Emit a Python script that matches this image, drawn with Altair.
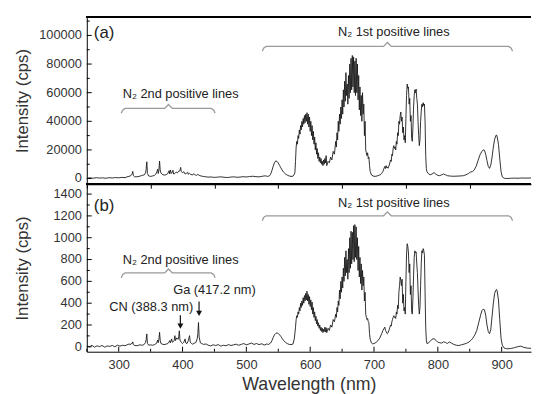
import altair as alt
import pandas as pd

FONT = "Liberation Sans"
W = 451
H = 170
X_DOMAIN = [250, 946]
X_MAJOR = [300, 400, 500, 600, 700, 800, 900]
X_MINOR = [250, 350, 450, 550, 650, 750, 850]

# ---------------- panel (a) spectrum: (wavelength nm, intensity cps) ----------------
A_BASE_UV = [(250, 300), (255, 500), (260, 200), (265, 600), (270, 300), (275, 500), (280, 200),
             (285, 600), (290, 400), (295, 700), (300, 500), (305, 800), (310, 600)]
A_N2_2ND = [(313, 1200), (316, 1500), (319, 2000), (320, 2600), (321, 3200), (322, 5000), (323, 2000),
            (325, 1200), (330, 1300), (334, 1800), (337, 2200), (340, 2600), (342, 4000), (343, 6500),
            (344, 11700), (345, 3500), (347, 1800), (350, 1500), (353, 1800), (356, 2200), (358, 3000),
            (360, 5000), (361, 6500), (362, 3500), (363, 6000), (364, 12200), (365, 6000), (366, 4000),
            (368, 3000), (371, 2400), (374, 2600), (377, 3500), (379, 5500), (380, 3200), (381, 6000),
            (382, 4000), (383, 3600), (385, 5800), (386, 3200), (388, 3500), (390, 4500), (392, 4000),
            (394, 5200), (396, 5500), (397, 7800), (398, 5000), (400, 4000), (402, 4800), (404, 3200),
            (406, 3600), (408, 4400), (409, 3000), (411, 3600), (413, 2800), (416, 2600), (418, 3400),
            (420, 2400), (422, 2200), (424, 3000), (426, 2200), (429, 1800), (433, 1400), (437, 1200)]
A_VIS = [(440, 1000), (445, 1100), (450, 800), (455, 1000), (460, 1200), (465, 900), (470, 700),
         (475, 1000), (480, 1200), (485, 900), (490, 1000), (495, 1300), (500, 1100), (505, 1400),
         (510, 1600), (515, 1300), (520, 1200), (525, 1600), (530, 1900), (533, 1500), (536, 1800),
         (538, 3000), (540, 5500), (542, 8500), (544, 11000), (546, 12300), (548, 12000), (550, 10800),
         (552, 9200), (554, 7500), (556, 6000), (558, 4600), (561, 3300), (564, 2400), (567, 1800),
         (570, 1500), (573, 1600), (575, 3000)]
A_BAND1 = [(576, 4000), (577, 12000), (578, 22000), (579, 26000), (580, 24000), (581, 30000),
           (582, 28000), (583, 34000), (584, 31000), (585, 37000), (586, 34000), (587, 40000),
           (588, 36000), (589, 42000), (590, 38000), (591, 44000), (592, 39000), (593, 45000),
           (594, 40000), (595, 46000), (596, 38000), (597, 45000), (598, 36000), (599, 43000),
           (600, 33000), (601, 40000), (602, 30000), (603, 37000), (604, 27000), (605, 33000),
           (606, 24000), (607, 29000), (608, 20000), (609, 25000), (610, 17000), (611, 21000),
           (612, 14000), (613, 18000), (614, 12000), (615, 15000), (616, 11000), (617, 14000),
           (618, 10000), (619, 12000), (620, 9000), (621, 13000), (622, 10000), (623, 14000),
           (624, 11000), (625, 16000)]
A_BAND2 = [(626, 9000), (628, 12000), (630, 11000), (632, 15000), (634, 13000), (636, 19000),
           (638, 17000), (640, 26000), (641, 22000), (642, 32000), (643, 27000), (644, 40000),
           (645, 33000), (646, 45000), (647, 38000), (648, 50000), (649, 42000), (650, 55000),
           (651, 45000), (652, 62000), (653, 50000), (654, 68000), (655, 54000), (656, 74000),
           (657, 58000), (658, 66000), (659, 52000), (660, 72000), (661, 56000), (662, 80000),
           (663, 60000), (664, 84000), (665, 62000), (666, 86000), (667, 64000), (668, 85000),
           (669, 60000), (670, 82000), (671, 58000), (672, 84000), (673, 60000), (674, 80000),
           (675, 55000), (676, 72000), (677, 48000), (678, 64000), (679, 44000), (680, 58000),
           (681, 40000), (682, 60000), (683, 45000), (684, 52000), (685, 30000), (686, 40000),
           (687, 20000), (688, 18000), (689, 16000), (690, 18000), (691, 14000), (692, 15000),
           (693, 9000), (694, 5000), (696, 2500)]
A_BAND3 = [(700, 1500), (703, 1600), (706, 2000), (709, 2500), (712, 3500), (714, 5000), (716, 7500),
           (717, 8500), (718, 7000), (719, 9000), (720, 7500), (721, 8000), (722, 7200), (724, 9500),
           (726, 13000), (727, 12000), (728, 17000), (729, 16000), (730, 21000), (731, 23000),
           (732, 21000), (733, 22000), (734, 20000), (735, 26000), (736, 24000), (737, 32000),
           (738, 30000), (739, 40000), (740, 38000), (741, 44000), (742, 46500), (743, 40000),
           (744, 43000), (745, 32000), (746, 36000), (747, 27000), (748, 30000), (749, 25000),
           (750, 42000), (751, 58000), (752, 66000), (753, 63000), (754, 64000), (755, 52000),
           (756, 56000), (757, 40000), (758, 44000), (759, 28000), (760, 26000), (761, 36000),
           (762, 50000), (763, 58000), (764, 62000), (765, 60000), (766, 62500), (767, 56000),
           (768, 52000), (769, 40000), (770, 30000), (771, 23000), (772, 27000), (773, 40000),
           (774, 47000), (775, 52000), (776, 50000), (777, 53000), (778, 51000), (779, 52000),
           (780, 40000), (781, 16000), (782, 7000), (783, 4800), (785, 3500)]
A_IR = [(788, 2600), (791, 3200), (794, 4200), (797, 3000), (800, 2200), (803, 2000), (806, 2600),
        (809, 3200), (812, 2600), (815, 2000), (820, 1700), (825, 1600), (830, 1700), (835, 1800),
        (840, 2000), (844, 2600), (848, 3500), (851, 4500), (854, 4800), (857, 6000), (860, 8500),
        (863, 12500), (866, 16500), (869, 19000), (871, 20000), (873, 19800), (875, 17000),
        (877, 12500), (879, 8500), (881, 7100), (883, 9500), (885, 15000), (887, 22000), (889, 27500),
        (891, 30000), (892, 30500), (893, 29000), (895, 24000), (897, 14000), (899, 5000), (901, 1200),
        (904, 200), (908, 0), (914, 200), (920, 300), (926, 200), (932, 400), (938, 300), (946, 400)]

# ---------------- panel (b) spectrum ----------------
B_BASE_UV = [(250, 10), (254, 0), (258, 14), (262, -4), (266, 9), (270, 2), (274, 12), (278, -3),
             (282, 8), (286, 4), (290, 12), (294, 0), (298, 15), (302, 6), (306, 14), (310, 10)]
B_N2_2ND = [(313, 18), (316, 25), (319, 22), (320, 32), (321, 30), (322, 45), (323, 20), (325, 12),
            (329, 10), (333, 18), (337, 14), (340, 22), (342, 40), (343, 65), (344, 118), (345, 32),
            (347, 15), (350, 18), (353, 14), (356, 20), (359, 30), (360, 45), (361, 62), (362, 38),
            (363, 70), (364, 133), (365, 60), (366, 32), (368, 25), (371, 20), (374, 24), (377, 30),
            (379, 45), (380, 58), (381, 36), (383, 72), (384, 42), (386, 50), (387, 60), (388, 102),
            (389, 58), (391, 82), (393, 68), (394, 90), (395, 147), (396, 62), (398, 40), (400, 30),
            (402, 42), (404, 72), (405, 36), (407, 30), (409, 55), (411, 102), (412, 44), (414, 30),
            (416, 24), (418, 32), (421, 40), (423, 75), (424, 120), (425, 223), (426, 90), (428, 36),
            (430, 30), (433, 22), (437, 26)]
B_VIS = [(440, 15), (444, 8), (448, 18), (452, 12), (456, 20), (460, 6), (464, 14), (468, 10),
         (472, 20), (476, 12), (480, 18), (484, 24), (488, 14), (492, 22), (496, 30), (500, 18),
         (504, 26), (508, 34), (512, 22), (516, 30), (520, 20), (524, 28), (528, 16), (532, 26),
         (535, 22), (538, 35), (540, 55), (542, 85), (544, 110), (546, 122), (548, 128), (550, 122),
         (552, 110), (554, 95), (556, 78), (558, 60), (561, 42), (564, 30), (567, 22), (570, 20),
         (573, 25), (575, 70), (576, 120)]
B_BAND1 = [(577, 180), (578, 250), (579, 285), (580, 270), (581, 320), (582, 300), (583, 360),
           (584, 330), (585, 400), (586, 360), (587, 420), (588, 380), (589, 450), (590, 400),
           (591, 470), (592, 420), (593, 490), (594, 430), (595, 510), (596, 420), (597, 480),
           (598, 390), (599, 460), (600, 370), (601, 430), (602, 340), (603, 410), (604, 300),
           (605, 360), (606, 270), (607, 320), (608, 240), (609, 280), (610, 210), (611, 250),
           (612, 190), (613, 220), (614, 170), (615, 200), (616, 150), (617, 180), (618, 140),
           (619, 170), (620, 130), (621, 160), (622, 140), (623, 180), (624, 135), (625, 175)]
B_BAND2 = [(626, 130), (628, 170), (630, 150), (632, 200), (634, 180), (636, 250), (638, 230),
           (640, 300), (641, 270), (642, 360), (643, 320), (644, 420), (645, 380), (646, 520),
           (647, 440), (648, 600), (649, 500), (650, 640), (651, 540), (652, 720), (653, 600),
           (654, 820), (655, 650), (656, 880), (657, 680), (658, 800), (659, 620), (660, 900),
           (661, 680), (662, 1000), (663, 720), (664, 1060), (665, 760), (666, 1050), (667, 800),
           (668, 1110), (669, 780), (670, 1120), (671, 820), (672, 1100), (673, 800), (674, 1000),
           (675, 700), (676, 920), (677, 640), (678, 820), (679, 580), (680, 760), (681, 520),
           (682, 700), (683, 560), (684, 640), (685, 420), (686, 500), (687, 300), (688, 270),
           (689, 250), (690, 260), (691, 230), (692, 220), (693, 120), (694, 70), (696, 35), (698, 27)]
B_BAND3 = [(700, 30), (703, 40), (706, 55), (709, 80), (712, 120), (714, 150), (716, 170), (717, 180),
           (718, 150), (719, 140), (720, 125), (721, 120), (722, 130), (724, 160), (726, 200),
           (727, 190), (728, 230), (729, 250), (730, 270), (731, 285), (732, 270), (733, 275),
           (734, 260), (735, 320), (736, 300), (737, 380), (738, 350), (739, 500), (740, 560),
           (741, 640), (742, 610), (743, 560), (744, 620), (745, 400), (746, 480), (747, 330),
           (748, 360), (749, 300), (750, 600), (751, 850), (752, 945), (753, 920), (754, 860),
           (755, 680), (756, 760), (757, 480), (758, 560), (759, 320), (760, 300), (761, 450),
           (762, 650), (763, 820), (764, 880), (765, 860), (766, 870), (767, 760), (768, 680),
           (769, 520), (770, 380), (771, 300), (772, 360), (773, 560), (774, 760), (775, 880),
           (776, 860), (777, 900), (778, 880), (779, 840), (780, 500), (781, 180), (782, 60),
           (783, 30), (785, 35)]
B_IR = [(788, 50), (791, 70), (794, 75), (797, 60), (800, 42), (803, 38), (806, 34), (809, 45),
        (812, 40), (815, 30), (818, 45), (821, 35), (825, 22), (829, 14), (833, 12), (837, 18),
        (841, 25), (845, 32), (849, 45), (852, 60), (855, 80), (858, 110), (861, 150), (864, 220),
        (867, 290), (869, 330), (871, 345), (873, 340), (875, 290), (877, 200), (879, 140),
        (881, 120), (883, 160), (885, 280), (887, 400), (889, 490), (891, 520), (892, 525),
        (893, 510), (895, 430), (897, 250), (899, 80), (901, 15), (904, -12), (908, -18),
        (914, -16), (920, -8), (926, 2), (930, 6), (934, -4), (940, -12), (946, -14)]

# ---------------- axes ----------------
A_Y_DOMAIN = [-4000, 113000]
A_Y_MAJOR = [0, 20000, 40000, 60000, 80000, 100000]
A_Y_MINOR = [10000, 30000, 50000, 70000, 90000, 110000]
B_Y_DOMAIN = [-45, 1490]
B_Y_MAJOR = [0, 200, 400, 600, 800, 1000, 1200, 1400]
B_Y_MINOR = [100, 300, 500, 700, 900, 1100, 1300]

# ---------------- annotations ----------------
A_LABEL = ["(a)"]
A_LABEL_WL = [261]
A_LABEL_I = [101300]
A_TEXT = ["N\u2082 2nd positive lines", "N\u2082 1st positive lines"]
A_TEXT_WL = [397, 731]
A_TEXT_I = [59300, 102700]
A_BRACES = [(304, 378, 451), (525, 721, 917)]
A_BRACE_I = [49000, 92350]

B_LABEL = ["(b)"]
B_LABEL_WL = [261]
B_LABEL_I = [1291]
B_TEXT = ["N\u2082 2nd positive lines", "N\u2082 1st positive lines", "CN (388.3 nm)", "Ga (417.2 nm)"]
B_TEXT_WL = [397, 731, 351, 450]
B_TEXT_I = [795, 1318, 361, 524]
B_BRACES = [(304, 378, 451), (525, 721, 917)]
B_BRACE_I = [677, 1201]
B_ARROW_WL = [396.6, 425.9]
B_ARROW_TOP = [289, 416]
B_ARROW_HEAD = [190, 307]


def spec_df(segments):
    rows = [p for seg in segments for p in seg]
    df = pd.DataFrame(rows, columns=["wl", "I"])
    df["o"] = range(len(df))
    return df


def brace_df(braces, levels, drop, tip):
    rows = []
    for k, ((x0, xc, x1), y) in enumerate(zip(braces, levels)):
        pts = [(x0, y - drop), (x0 + 2, y - drop * 0.35), (x0 + 6, y), (xc - 6, y), (xc, y + tip),
               (xc + 6, y), (x1 - 6, y), (x1 - 2, y - drop * 0.35), (x1, y - drop)]
        for j, (x, v) in enumerate(pts):
            rows.append({"wl": x, "I": v, "g": k, "o": j})
    return pd.DataFrame(rows)


def x_ticks(values, length):
    return alt.Chart(pd.DataFrame({"wl": values})).mark_rule(color="black", strokeWidth=1).encode(
        x="wl:Q", y=alt.value(H), y2=alt.value(H - length))


def y_ticks(values, length):
    return alt.Chart(pd.DataFrame({"I": values})).mark_rule(color="black", strokeWidth=1).encode(
        y="I:Q", x=alt.value(0), x2=alt.value(length))


def y_labels(values):
    df = pd.DataFrame({"I": values, "t": [str(v) for v in values]})
    return alt.Chart(df).mark_text(font=FONT, fontSize=13, color="#333", align="right",
                                   baseline="middle", dx=-5).encode(
        y="I:Q", x=alt.value(0), text="t:N")


def panel(segments, ydom, ymaj, ymin, label, label_wl, label_i, texts, text_wl, text_i,
          braces, brace_levels, drop, tip, bottom, arrows=None):
    xscale = alt.Scale(domain=X_DOMAIN, nice=False, zero=False)
    yscale = alt.Scale(domain=ydom, nice=False, zero=False)
    if bottom:
        xaxis = alt.Axis(values=X_MAJOR, title="Wavelength (nm)", grid=False, ticks=False,
                         labelPadding=7, titlePadding=4, titleFontSize=18, labelFlush=False)
    else:
        xaxis = alt.Axis(values=sorted(X_MAJOR + X_MINOR), title=None, labels=False, grid=False,
                         tickSize=4)
    yaxis = alt.Axis(values=ymaj, title="Intensity (cps)", grid=False, ticks=False, labels=False,
                     titleX=-65, titleBaseline="middle", titleAlign="center")

    spec = spec_df(segments)
    line = alt.Chart(spec).mark_line(color="#1a1a1a", strokeWidth=0.9, clip=True).encode(
        x=alt.X("wl:Q", scale=xscale, axis=xaxis),
        y=alt.Y("I:Q", scale=yscale, axis=yaxis),
        order="o:Q",
    )
    layers = [line]

    bdf = brace_df(braces, brace_levels, drop, tip)
    layers.append(alt.Chart(bdf).mark_line(color="#9a9a9a", strokeWidth=1.3).encode(
        x="wl:Q", y="I:Q", detail="g:N", order="o:Q"))

    tdf = pd.DataFrame({"wl": text_wl, "I": text_i, "t": texts})
    layers.append(alt.Chart(tdf).mark_text(font=FONT, fontSize=13, color="#222",
                                           align="center", baseline="middle").encode(
        x="wl:Q", y="I:Q", text="t:N"))

    ldf = pd.DataFrame({"wl": label_wl, "I": label_i, "t": label})
    layers.append(alt.Chart(ldf).mark_text(font=FONT, fontSize=17, color="#222",
                                           align="left", baseline="middle").encode(
        x="wl:Q", y="I:Q", text="t:N"))

    if arrows is not None:
        awl, atop, ahead = arrows
        adf = pd.DataFrame({"wl": awl, "I": atop, "I2": ahead})
        layers.append(alt.Chart(adf).mark_rule(color="#111", strokeWidth=1.2).encode(
            x="wl:Q", y="I:Q", y2="I2:Q"))
        layers.append(alt.Chart(adf).mark_point(shape="triangle-down", filled=True, size=36,
                                                color="#111", opacity=1).encode(
            x="wl:Q", y=alt.Y("I2:Q")))

    layers.append(y_ticks(ymaj, 5))
    layers.append(y_ticks(ymin, 3))
    layers.append(y_labels(ymaj))
    if bottom:
        layers.append(x_ticks(X_MAJOR, 5))
        layers.append(x_ticks(X_MINOR, 3))

    layers.append(alt.Chart(spec).mark_rule(color="black", strokeWidth=1).encode(
        x=alt.value(0), x2=alt.value(W), y=alt.value(0)))

    return alt.layer(*layers).properties(width=W, height=H)


top = panel([A_BASE_UV, A_N2_2ND, A_VIS, A_BAND1, A_BAND2, A_BAND3, A_IR],
            A_Y_DOMAIN, A_Y_MAJOR, A_Y_MINOR, A_LABEL, A_LABEL_WL, A_LABEL_I,
            A_TEXT, A_TEXT_WL, A_TEXT_I, A_BRACES, A_BRACE_I, 3440, 2750, bottom=False)
bot = panel([B_BASE_UV, B_N2_2ND, B_VIS, B_BAND1, B_BAND2, B_BAND3, B_IR],
            B_Y_DOMAIN, B_Y_MAJOR, B_Y_MINOR, B_LABEL, B_LABEL_WL, B_LABEL_I,
            B_TEXT, B_TEXT_WL, B_TEXT_I, B_BRACES, B_BRACE_I, 45, 36, bottom=True,
            arrows=(B_ARROW_WL, B_ARROW_TOP, B_ARROW_HEAD))

chart = alt.vconcat(top, bot, spacing=0, bounds="flush").resolve_scale(
    x="independent", y="independent"
).properties(
    padding={"left": 5, "top": 5, "right": 0, "bottom": 0},
    background="white",
).configure_view(stroke=None).configure_axis(
    labelFont=FONT, titleFont=FONT, labelFontSize=13, titleFontSize=17,
    titleFontWeight="normal", labelColor="#333", titleColor="#333",
    domainColor="black", tickColor="black", domainWidth=1
)

chart.save("out.html", embed_options={"renderer": "svg", "actions": False})
